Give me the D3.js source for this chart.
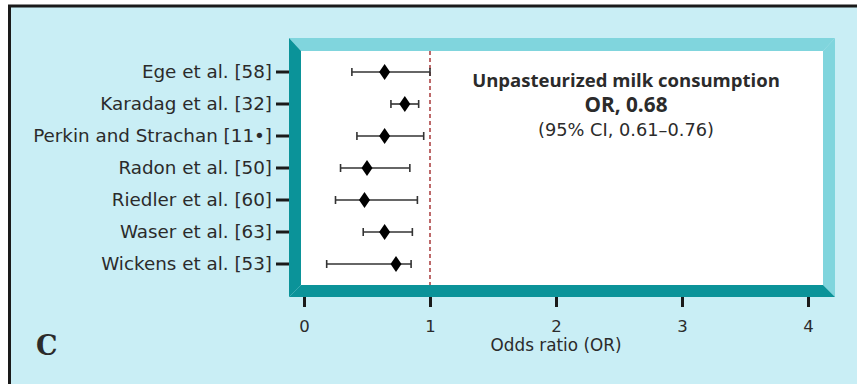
<!DOCTYPE html>
<html>
<head>
<meta charset="utf-8">
<script src="https://cdn.jsdelivr.net/npm/d3@7"></script>
<style>
  body { margin: 0; background: #fff; }
  svg { display: block; }
  text { font-family: "DejaVu Sans", sans-serif; fill: #2b2b2b; }
</style>
</head>
<body>
<div id="chart"></div>
<script>
// studies, top to bottom
const studies = ["Ege et al. [58]", "Karadag et al. [32]", "Perkin and Strachan [11\u2022]",
  "Radon et al. [50]", "Riedler et al. [60]", "Waser et al. [63]", "Wickens et al. [53]"];
// odds ratios and 95% CI bounds
const orValues = [0.64, 0.80, 0.64, 0.50, 0.48, 0.64, 0.73];
const ciLow    = [0.38, 0.69, 0.42, 0.29, 0.25, 0.47, 0.18];
const ciHigh   = [1.00, 0.91, 0.95, 0.84, 0.90, 0.86, 0.85];
const xTicks = [0, 1, 2, 3, 4];
const refLine = 1;
const titleLines = ["Unpasteurized milk consumption", "OR, 0.68", "(95% CI, 0.61\u20130.76)"];

const W = 857, H = 384;
const bg = "#c9eef5", light = "#80d5dd", dark = "#0b9399";

// shrink/grow font so a text node gets the wanted width
function fit(sel, width) {
  const fs = +sel.attr("font-size");
  const w = sel.node().getComputedTextLength();
  sel.attr("font-size", (fs * width / w).toFixed(2));
  return sel;
}

const svg = d3.select("#chart").append("svg")
    .attr("width", W).attr("height", H);

// background + black border (top and left only, image is cropped)
svg.append("rect").attr("x", 0).attr("y", 0).attr("width", W).attr("height", H).attr("fill", "#fff");
svg.append("rect").attr("x", 9.5).attr("y", 6).attr("width", W).attr("height", H)
    .attr("fill", bg).attr("stroke", "#1a1a1a").attr("stroke-width", 3);

// bevelled frame
const fo = {x0: 289, y0: 38, x1: 835, y1: 297}, b = 12;
const poly = pts => pts.map(p => p.join(",")).join(" ");
svg.append("polygon").attr("fill", light)
    .attr("points", poly([[fo.x0, fo.y0], [fo.x1, fo.y0], [fo.x1 - b, fo.y0 + b + 1], [fo.x0 + b, fo.y0 + b + 1]]));
svg.append("polygon").attr("fill", light)
    .attr("points", poly([[fo.x1, fo.y0], [fo.x1, fo.y1], [fo.x1 - b, fo.y1 - b], [fo.x1 - b, fo.y0 + b + 1]]));
svg.append("polygon").attr("fill", dark)
    .attr("points", poly([[fo.x0, fo.y0], [fo.x0 + b, fo.y0 + b + 1], [fo.x0 + b, fo.y1 - b], [fo.x0, fo.y1]]));
svg.append("polygon").attr("fill", dark)
    .attr("points", poly([[fo.x0, fo.y1], [fo.x0 + b, fo.y1 - b], [fo.x1 - b, fo.y1 - b], [fo.x1, fo.y1]]));
svg.append("rect").attr("x", fo.x0 + b).attr("y", fo.y0 + b + 1)
    .attr("width", fo.x1 - fo.x0 - 2 * b).attr("height", fo.y1 - fo.y0 - 2 * b - 1)
    .attr("fill", "#fff");

// scales
const x = d3.scaleLinear().domain([0, 4]).range([304, 808]);
const y = d3.scaleBand().domain(studies).range([56, 280]);
const yc = d => y(d) + y.bandwidth() / 2;

// y axis: ticks + labels
const yAxis = svg.append("g").attr("transform", "translate(289,0)")
    .call(d3.axisLeft(y).tickSize(13).tickPadding(4));
yAxis.select(".domain").remove();
yAxis.selectAll(".tick line").attr("stroke", "#1a1a1a").attr("stroke-width", 3);
const yLabels = yAxis.selectAll(".tick text").attr("font-size", 17).attr("fill", "#2b2b2b")
    .style("font-family", "'DejaVu Sans', sans-serif");
// size all labels from the longest one (Perkin and Strachan ~239px in the reference)
const longest = yLabels.filter(d => d === studies[2]);
fit(longest, 239);
yLabels.attr("font-size", longest.attr("font-size"));

// x axis
const xAxis = svg.append("g").attr("transform", `translate(0,${fo.y1})`)
    .call(d3.axisBottom(x).tickValues(xTicks).tickFormat(d3.format("d")).tickSize(10));
xAxis.select(".domain").remove();
xAxis.selectAll(".tick line").attr("stroke", "#1a1a1a").attr("stroke-width", 3);
xAxis.selectAll(".tick text").attr("font-size", 16.5).attr("fill", "#2b2b2b")
    .attr("y", 35).attr("dy", 0)
    .style("font-family", "'DejaVu Sans', sans-serif");

fit(svg.append("text").attr("x", x(2)).attr("y", 351).attr("text-anchor", "middle")
    .attr("font-size", 17).text("Odds ratio (OR)"), 131);

// reference line
svg.append("line").attr("x1", x(refLine)).attr("x2", x(refLine))
    .attr("y1", fo.y0 + b + 1).attr("y2", fo.y1 - b)
    .attr("stroke", "#a8383a").attr("stroke-width", 1.5).attr("stroke-dasharray", "4,3");

// CI whiskers
const rows = studies.map((s, i) => ({s, or: orValues[i], lo: ciLow[i], hi: ciHigh[i]}));
const g = svg.append("g");
g.selectAll("line.ci").data(rows).join("line").attr("class", "ci")
    .attr("x1", d => x(d.lo)).attr("x2", d => x(d.hi))
    .attr("y1", d => yc(d.s)).attr("y2", d => yc(d.s))
    .attr("stroke", "#333").attr("stroke-width", 1.6);
["lo", "hi"].forEach(k => {
  g.selectAll("line.cap" + k).data(rows).join("line").attr("class", "cap" + k)
      .attr("x1", d => x(d[k])).attr("x2", d => x(d[k]))
      .attr("y1", d => yc(d.s) - 4).attr("y2", d => yc(d.s) + 4)
      .attr("stroke", "#333").attr("stroke-width", 1.6);
});
// diamonds
g.selectAll("path.pt").data(rows).join("path").attr("class", "pt")
    .attr("d", d => {
      const cx = x(d.or), cy = yc(d.s);
      return `M${cx},${cy - 8}L${cx + 5.5},${cy}L${cx},${cy + 8}L${cx - 5.5},${cy}Z`;
    })
    .attr("fill", "#000");

// summary text
const tx = 626;
fit(svg.append("text").attr("x", tx).attr("y", 87).attr("text-anchor", "middle")
    .style("font-family", "'Open Sans', sans-serif").attr("fill", "#1e1e1e")
    .attr("font-size", 18).attr("font-weight", "bold").text(titleLines[0]), 308);
fit(svg.append("text").attr("x", tx).attr("y", 112).attr("text-anchor", "middle")
    .style("font-family", "'Open Sans', sans-serif").attr("fill", "#1e1e1e")
    .attr("font-size", 18).attr("font-weight", "bold").text(titleLines[1]), 83);
fit(svg.append("text").attr("x", tx).attr("y", 136).attr("text-anchor", "middle")
    .attr("font-size", 17).text(titleLines[2]), 176);

// panel letter
svg.append("text").attr("x", 36).attr("y", 355).style("font-family", "'DejaVu Serif', serif")
    .attr("font-size", 27).attr("font-weight", "bold").attr("fill", "#111").text("C");
</script>
</body>
</html>
